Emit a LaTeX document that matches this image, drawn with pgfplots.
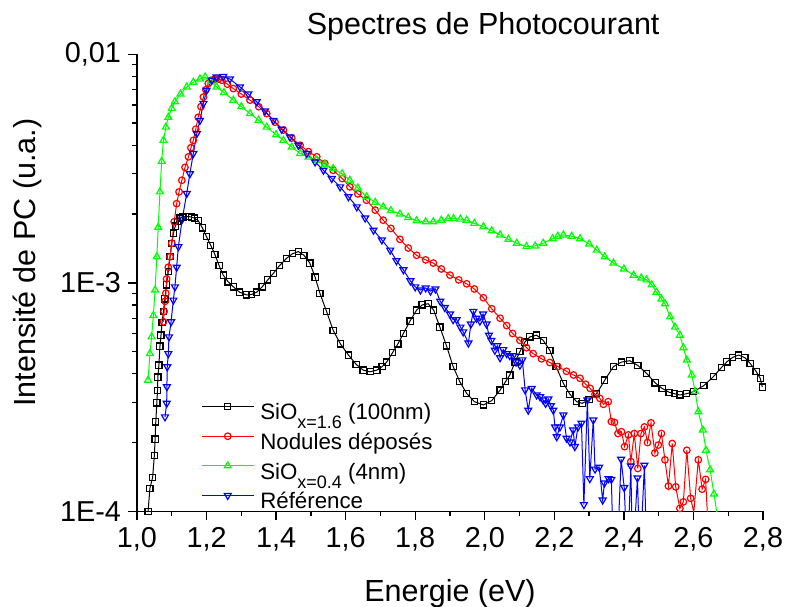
\documentclass[border=0pt]{standalone}
\usepackage{fontspec}
\setmainfont{Liberation Sans}
\usepackage{pgfplots}
\pgfplotsset{compat=1.18}
\definecolor{cblack}{RGB}{0,0,0}
\definecolor{cred}{RGB}{255,0,0}
\definecolor{cgreen}{RGB}{0,255,0}
\definecolor{cblue}{RGB}{0,0,255}
\newcommand{\sub}[1]{\raisebox{-4.5pt}{\fontsize{9}{9}\selectfont #1}}
\begin{document}
\begin{tikzpicture}
\begin{axis}[
  name=ax,
  scale only axis, width=313pt, height=228.5pt,
  xmin=1.0, xmax=2.8, ymode=log, ymin=1e-4, ymax=1e-2,
  axis x line*=bottom, axis y line*=left,
  axis line style={line width=0.7pt, -},
  xtick={1.0,1.2,1.4,1.6,1.8,2.0,2.2,2.4,2.6,2.8},
  xticklabels={{1,0},{1,2},{1,4},{1,6},{1,8},{2,0},{2,2},{2,4},{2,6},{2,8}},
  minor xtick={1.1,1.3,1.5,1.7,1.9,2.1,2.3,2.5,2.7},
  ytick={1e-4,1e-3,1e-2},
  yticklabels={1E-4,1E-3,{0,01}},
  minor ytick={2e-4,3e-4,4e-4,5e-4,6e-4,7e-4,8e-4,9e-4,2e-3,3e-3,4e-3,5e-3,6e-3,7e-3,8e-3,9e-3},
  tick align=outside, major tick length=4.5pt, minor tick length=2.5pt,
  tick style={line width=0.7pt, black},
  ticklabel style={font=\fontsize{14.4}{16}\selectfont},
  label style={font=\fontsize{15.25}{17}\selectfont},
  title style={font=\fontsize{15.25}{17}\selectfont, at={(axis description cs:0.553,1.0438)}, anchor=base, inner sep=0pt, yshift=-6pt},
  title={Spectres de Photocourant},
  xlabel={Energie (eV)},
  xlabel style={at={(axis description cs:0.5,-0.197)}, anchor=base, inner sep=0pt},
  ylabel={Intensité de PC (u.a.)},
  ylabel style={at={(axis description cs:-0.198,0.544)}, anchor=north, inner sep=0pt},
  legend style={draw=none, fill=none, at={(axis description cs:0.102,0.247)}, anchor=north west,
    font=\fontsize{11.15}{12}\selectfont, inner sep=0pt, column sep=3pt,
    nodes={inner sep=0pt, text height=10.5pt, text depth=4.3pt}},
  legend cell align=left,
  legend image code/.code={\draw[mark repeat=2, mark phase=2] plot coordinates {(0pt,3.5pt) (13pt,3.5pt) (26pt,3.5pt)};},
  every axis plot/.append style={line width=0.5pt},
]
\addplot[cblack, mark=square, mark size=1.55pt, mark options={solid, line width=0.6pt}] coordinates {
(1.032,1.0e-4)(1.037,1.26e-4)(1.045,1.41e-4)(1.050,1.76e-4)(1.052,2.07e-4)(1.054,2.46e-4)(1.057,2.98e-4)(1.059,3.37e-4)(1.060,3.87e-4)(1.063,4.36e-4)(1.066,5.28e-4)(1.069,5.9e-4)(1.072,6.7e-4)(1.076,7.5e-4)(1.080,8.5e-4)(1.085,9.8e-4)(1.090,1.12e-3)(1.095,1.3e-3)(1.100,1.49e-3)(1.105,1.65e-3)(1.110,1.77e-3)(1.117,1.86e-3)(1.124,1.92e-3)(1.132,1.94e-3)(1.140,1.95e-3)(1.148,1.95e-3)(1.156,1.94e-3)(1.165,1.92e-3)(1.176,1.87e-3)(1.188,1.74e-3)(1.200,1.59e-3)(1.212,1.46e-3)(1.224,1.33e-3)(1.236,1.19e-3)(1.248,1.08e-3)(1.262,1.01e-3)(1.277,9.6e-4)(1.295,9.1e-4)(1.315,8.85e-4)(1.330,8.9e-4)(1.344,9.1e-4)(1.360,9.6e-4)(1.376,1.03e-3)(1.392,1.10e-3)(1.410,1.19e-3)(1.430,1.28e-3)(1.447,1.34e-3)(1.464,1.37e-3)(1.480,1.32e-3)(1.497,1.22e-3)(1.512,1.06e-3)(1.526,9.0e-4)(1.545,7.5e-4)(1.564,6.2e-4)(1.585,5.4e-4)(1.608,4.83e-4)(1.630,4.4e-4)(1.650,4.15e-4)(1.670,4.08e-4)(1.690,4.15e-4)(1.705,4.3e-4)(1.718,4.5e-4)(1.735,4.95e-4)(1.750,5.4e-4)(1.766,6.0e-4)(1.785,6.8e-4)(1.804,7.6e-4)(1.820,8.0e-4)(1.837,8.1e-4)(1.853,7.6e-4)(1.871,6.4e-4)(1.890,5.3e-4)(1.909,4.3e-4)(1.928,3.7e-4)(1.948,3.28e-4)(1.970,3.02e-4)(1.996,2.92e-4)(2.020,3.05e-4)(2.044,3.39e-4)(2.060,3.7e-4)(2.072,3.95e-4)(2.087,4.5e-4)(2.101,5.0e-4)(2.115,5.5e-4)(2.130,5.8e-4)(2.149,5.9e-4)(2.168,5.6e-4)(2.187,5.07e-4)(2.205,4.3e-4)(2.226,3.63e-4)(2.245,3.25e-4)(2.264,3.02e-4)(2.280,2.97e-4)(2.300,3.08e-4)(2.322,3.28e-4)(2.345,3.75e-4)(2.370,4.3e-4)(2.393,4.5e-4)(2.417,4.56e-4)(2.440,4.35e-4)(2.465,4.02e-4)(2.490,3.65e-4)(2.510,3.45e-4)(2.530,3.32e-4)(2.545,3.27e-4)(2.561,3.23e-4)(2.580,3.27e-4)(2.600,3.34e-4)(2.630,3.55e-4)(2.657,3.88e-4)(2.680,4.25e-4)(2.696,4.51e-4)(2.713,4.72e-4)(2.730,4.83e-4)(2.748,4.7e-4)(2.763,4.44e-4)(2.780,4.1e-4)(2.792,3.82e-4)(2.798,3.5e-4)
};
\addlegendentry{SiO\sub{x=1.6} (100nm)}
\addplot[cred, mark=o, mark size=1.65pt, mark options={solid, line width=0.6pt}] coordinates {
(1.076,6.75e-4)(1.078,7.5e-4)(1.081,8.3e-4)(1.083,9.0e-4)(1.085,1.04e-3)(1.090,1.17e-3)(1.095,1.30e-3)(1.100,1.49e-3)(1.107,1.85e-3)(1.114,2.22e-3)(1.121,2.5e-3)(1.129,2.81e-3)(1.138,3.2e-3)(1.148,3.56e-3)(1.155,3.9e-3)(1.162,4.2e-3)(1.169,4.7e-3)(1.176,5.3e-3)(1.184,5.9e-3)(1.191,6.5e-3)(1.198,7.0e-3)(1.205,7.45e-3)(1.214,7.7e-3)(1.224,7.8e-3)(1.234,7.8e-3)(1.244,7.7e-3)(1.260,7.4e-3)(1.277,7.08e-3)(1.300,6.7e-3)(1.325,6.3e-3)(1.350,5.9e-3)(1.373,5.5e-3)(1.397,5.05e-3)(1.421,4.66e-3)(1.445,4.3e-3)(1.469,4.0e-3)(1.493,3.75e-3)(1.517,3.56e-3)(1.540,3.33e-3)(1.564,3.11e-3)(1.590,2.86e-3)(1.612,2.63e-3)(1.635,2.45e-3)(1.660,2.30e-3)(1.685,2.08e-3)(1.708,1.88e-3)(1.730,1.73e-3)(1.756,1.55e-3)(1.780,1.42e-3)(1.804,1.32e-3)(1.830,1.26e-3)(1.852,1.22e-3)(1.875,1.15e-3)(1.900,1.08e-3)(1.925,1.03e-3)(1.948,9.9e-4)(1.970,9.4e-4)(1.996,8.6e-4)(2.020,7.7e-4)(2.044,7.0e-4)(2.063,6.5e-4)(2.080,6.0e-4)(2.101,5.6e-4)(2.120,5.2e-4)(2.139,4.9e-4)(2.163,4.65e-4)(2.187,4.48e-4)(2.210,4.3e-4)(2.235,4.1e-4)(2.255,3.95e-4)(2.274,3.82e-4)(2.290,3.6e-4)(2.303,3.45e-4)(2.317,3.25e-4)(2.331,3.12e-4)(2.341,2.94e-4)(2.355,3.02e-4)(2.364,2.47e-4)(2.373,2.45e-4)(2.383,2.19e-4)(2.393,2.23e-4)(2.402,1.92e-4)(2.413,2.16e-4)(2.420,1.65e-4)(2.430,2.19e-4)(2.440,1.54e-4)(2.449,2.19e-4)(2.459,2.34e-4)(2.468,2.0e-4)(2.478,2.44e-4)(2.489,1.8e-4)(2.499,1.95e-4)(2.508,2.19e-4)(2.518,1.68e-4)(2.528,1.29e-4)(2.539,1.98e-4)(2.549,1.28e-4)(2.561,1.03e-4)(2.571,1.1e-4)(2.581,1.85e-4)(2.592,1.14e-4)(2.601,9.9e-5)(2.614,1.68e-4)(2.625,1.25e-4)(2.635,1.38e-4)(2.642,8.5e-5)
};
\addlegendentry{Nodules déposés}
\addplot[cgreen, mark=triangle, mark size=2pt, mark options={solid, line width=0.6pt}] coordinates {
(1.032,3.75e-4)(1.037,4.9e-4)(1.042,5.8e-4)(1.047,7.2e-4)(1.052,9.3e-4)(1.057,1.3e-3)(1.061,1.75e-3)(1.066,2.5e-3)(1.071,3.4e-3)(1.076,4.2e-3)(1.083,4.8e-3)(1.090,5.3e-3)(1.100,5.8e-3)(1.109,6.2e-3)(1.125,6.7e-3)(1.143,7.2e-3)(1.162,7.55e-3)(1.181,7.8e-3)(1.196,7.96e-3)(1.212,7.6e-3)(1.229,7.2e-3)(1.250,6.8e-3)(1.277,6.3e-3)(1.300,5.9e-3)(1.325,5.5e-3)(1.350,5.15e-3)(1.373,4.8e-3)(1.400,4.45e-3)(1.421,4.2e-3)(1.445,3.93e-3)(1.469,3.68e-3)(1.493,3.55e-3)(1.517,3.44e-3)(1.540,3.3e-3)(1.564,3.16e-3)(1.590,3.0e-3)(1.612,2.81e-3)(1.635,2.6e-3)(1.660,2.38e-3)(1.685,2.25e-3)(1.708,2.15e-3)(1.730,2.07e-3)(1.756,2.0e-3)(1.780,1.93e-3)(1.804,1.87e-3)(1.830,1.85e-3)(1.852,1.85e-3)(1.875,1.88e-3)(1.895,1.91e-3)(1.910,1.91e-3)(1.930,1.9e-3)(1.948,1.88e-3)(1.970,1.82e-3)(1.996,1.76e-3)(2.020,1.69e-3)(2.044,1.62e-3)(2.068,1.55e-3)(2.092,1.49e-3)(2.120,1.44e-3)(2.145,1.45e-3)(2.168,1.49e-3)(2.195,1.56e-3)(2.210,1.6e-3)(2.226,1.62e-3)(2.250,1.6e-3)(2.274,1.56e-3)(2.300,1.48e-3)(2.322,1.39e-3)(2.345,1.3e-3)(2.370,1.22e-3)(2.400,1.15e-3)(2.428,1.08e-3)(2.450,1.05e-3)(2.465,1.03e-3)(2.480,9.8e-4)(2.494,9.1e-4)(2.508,8.5e-4)(2.518,8.1e-4)(2.533,7.1e-4)(2.547,6.4e-4)(2.561,5.9e-4)(2.571,5.2e-4)(2.581,4.59e-4)(2.595,3.95e-4)(2.605,3.34e-4)(2.614,2.73e-4)(2.627,2.27e-4)(2.636,1.85e-4)(2.648,1.52e-4)(2.659,1.19e-4)(2.670,9.3e-5)
};
\addlegendentry{SiO\sub{x=0.4} (4nm)}
\addplot[cblue, mark=triangle, mark size=2pt, mark options={solid, rotate=180, line width=0.6pt}] coordinates {
(1.0805,2.59e-4)(1.0854,2.97e-4)(1.0860,3.51e-4)(1.0870,4.29e-4)(1.090,4.9e-4)(1.092,5.8e-4)(1.098,6.75e-4)(1.1045,8.4e-4)(1.109,9.6e-4)(1.114,1.17e-3)(1.119,1.44e-3)(1.130,1.9e-3)(1.143,2.46e-3)(1.152,3.0e-3)(1.162,3.68e-3)(1.172,4.5e-3)(1.181,5.14e-3)(1.191,6.1e-3)(1.200,6.96e-3)(1.215,7.7e-3)(1.229,7.96e-3)(1.248,8.0e-3)(1.267,7.8e-3)(1.296,7.2e-3)(1.320,6.7e-3)(1.344,6.2e-3)(1.368,5.65e-3)(1.392,5.14e-3)(1.416,4.7e-3)(1.440,4.35e-3)(1.464,4.0e-3)(1.488,3.68e-3)(1.512,3.38e-3)(1.536,3.11e-3)(1.560,2.86e-3)(1.584,2.63e-3)(1.608,2.38e-3)(1.632,2.15e-3)(1.656,1.92e-3)(1.680,1.70e-3)(1.704,1.54e-3)(1.728,1.39e-3)(1.746,1.25e-3)(1.766,1.14e-3)(1.786,1.02e-3)(1.800,9.6e-4)(1.815,9.3e-4)(1.830,9.5e-4)(1.844,9.2e-4)(1.858,9.4e-4)(1.872,8.3e-4)(1.885,7.8e-4)(1.900,7.3e-4)(1.909,6.9e-4)(1.919,6.9e-4)(1.930,6.4e-4)(1.938,6.1e-4)(1.953,5.45e-4)(1.960,6.6e-4)(1.967,7.5e-4)(1.976,7.0e-4)(1.986,6.8e-4)(1.995,7.3e-4)(2.005,6.6e-4)(2.012,5.9e-4)(2.019,5.6e-4)(2.029,5.07e-4)(2.036,5.3e-4)(2.044,4.7e-4)(2.053,5.1e-4)(2.063,4.9e-4)(2.072,4.8e-4)(2.082,4.8e-4)(2.090,4.5e-4)(2.101,4.36e-4)(2.108,4.6e-4)(2.116,3.4e-4)(2.125,2.77e-4)(2.135,3.45e-4)(2.149,3.23e-4)(2.159,3.17e-4)(2.168,3.07e-4)(2.175,2.97e-4)(2.183,3.1e-4)(2.190,2.9e-4)(2.197,2.77e-4)(2.202,2.34e-4)(2.207,2.12e-4)(2.216,2.34e-4)(2.226,2.64e-4)(2.235,2.09e-4)(2.245,2.01e-4)(2.254,2.27e-4)(2.259,1.92e-4)(2.268,2.34e-4)(2.278,2.43e-4)(2.285,1.07e-4)(2.295,3.07e-4)(2.302,1.39e-4)(2.312,2.51e-4)(2.317,1.53e-4)(2.329,1.56e-4)(2.339,1.12e-4)(2.344,1.33e-4)(2.356,1.39e-4)(2.364,1.38e-4)(2.370,6e-5)(2.380,6e-5)(2.392,1.69e-4)(2.401,1.27e-4)(2.410,6e-5)(2.420,1.58e-4)(2.425,6e-5)(2.439,1.40e-4)(2.446,6e-5)(2.459,1.59e-4)(2.466,6e-5)
};
\addlegendentry{Référence}
\end{axis}
\pgfresetboundingbox
\path (ax.south west) ++(-68.5pt,-47.35pt) rectangle ++(393.5pt,303pt);
\end{tikzpicture}
\end{document}
